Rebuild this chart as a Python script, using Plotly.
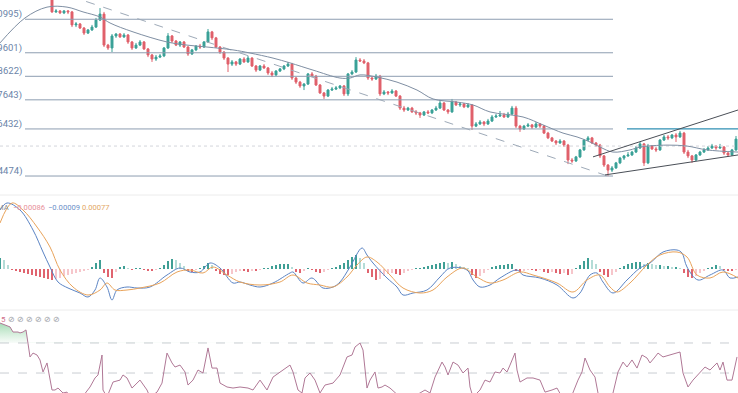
import plotly.graph_objects as go

# ---------------- DATA ----------------
first_open = 1.1230
closes = [1.1130, 1.1134, 1.1126, 1.1134, 1.1130, 1.1076, 1.1080, 1.1063, 1.1042, 1.1055,
          1.1067, 1.1096, 1.1121, 1.0992, 1.0980, 1.1030, 1.1038, 1.1026, 1.1034, 1.1005,
          1.0980, 1.0992, 1.1005, 1.0976, 1.0951, 1.0934, 1.0942, 1.0947, 1.0980, 1.1030,
          1.1009, 1.0992, 1.1005, 1.0984, 1.0955, 1.0972, 1.0988, 1.0984, 1.1005, 1.1047,
          1.1022, 1.0984, 1.0963, 1.0938, 1.0913, 1.0922, 1.0913, 1.0934, 1.0922, 1.0938,
          1.0905, 1.0888, 1.0905, 1.0897, 1.0876, 1.0868, 1.0884, 1.0893, 1.0905, 1.0913,
          1.0855, 1.0838, 1.0822, 1.0830, 1.0872, 1.0863, 1.0826, 1.0793, 1.0780, 1.0805,
          1.0809, 1.0814, 1.0822, 1.0789, 1.0872, 1.0880, 1.0930, 1.0926, 1.0918, 1.0855,
          1.0851, 1.0863, 1.0789, 1.0797, 1.0793, 1.0801, 1.0780, 1.0730, 1.0722, 1.0730,
          1.0714, 1.0710, 1.0701, 1.0714, 1.0710, 1.0722, 1.0730, 1.0751, 1.0722, 1.0714,
          1.0755, 1.0743, 1.0747, 1.0735, 1.0743, 1.0655, 1.0664, 1.0672, 1.0664, 1.0676,
          1.0693, 1.0697, 1.0701, 1.0693, 1.0705, 1.0730, 1.0655, 1.0643, 1.0655, 1.0660,
          1.0651, 1.0664, 1.0655, 1.0626, 1.0606, 1.0593, 1.0585, 1.0593, 1.0576, 1.0514,
          1.0510, 1.0527, 1.0556, 1.0597, 1.0606, 1.0585, 1.0576, 1.0531, 1.0493, 1.0472,
          1.0481, 1.0502, 1.0522, 1.0531, 1.0535, 1.0547, 1.0564, 1.0581, 1.0502, 1.0572,
          1.0560, 1.0556, 1.0597, 1.0610, 1.0606, 1.0618, 1.0610, 1.0626, 1.0547, 1.0531,
          1.0514, 1.0535, 1.0547, 1.0556, 1.0564, 1.0572, 1.0564, 1.0568, 1.0543, 1.0535,
          1.0556, 1.0601]
highs = [1.1246, 1.1142, 1.1138, 1.1138, 1.1138, 1.1134, 1.1088, 1.1084, 1.1067, 1.1059,
         1.1076, 1.1105, 1.1146, 1.1130, 1.0997, 1.1038, 1.1042, 1.1042, 1.1042, 1.1038,
         1.1009, 1.1001, 1.1013, 1.1009, 1.0980, 1.0955, 1.0951, 1.0955, 1.0984, 1.1042,
         1.1034, 1.1013, 1.1009, 1.1009, 1.0988, 1.0976, 1.0992, 1.0997, 1.1009, 1.1059,
         1.1051, 1.1026, 1.0988, 1.0967, 1.0942, 1.0930, 1.0926, 1.0938, 1.0942, 1.0947,
         1.0942, 1.0909, 1.0909, 1.0913, 1.0901, 1.0884, 1.0888, 1.0897, 1.0909, 1.0922,
         1.0918, 1.0859, 1.0843, 1.0834, 1.0876, 1.0880, 1.0868, 1.0830, 1.0797, 1.0809,
         1.0818, 1.0822, 1.0826, 1.0826, 1.0876, 1.0888, 1.0942, 1.0938, 1.0934, 1.0922,
         1.0863, 1.0872, 1.0868, 1.0805, 1.0801, 1.0809, 1.0805, 1.0784, 1.0739, 1.0735,
         1.0735, 1.0722, 1.0714, 1.0718, 1.0722, 1.0726, 1.0739, 1.0764, 1.0755, 1.0726,
         1.0768, 1.0759, 1.0755, 1.0751, 1.0751, 1.0747, 1.0672, 1.0680, 1.0676, 1.0685,
         1.0701, 1.0705, 1.0718, 1.0710, 1.0714, 1.0739, 1.0739, 1.0660, 1.0660, 1.0668,
         1.0664, 1.0672, 1.0668, 1.0660, 1.0631, 1.0610, 1.0597, 1.0601, 1.0597, 1.0581,
         1.0522, 1.0531, 1.0560, 1.0601, 1.0614, 1.0610, 1.0589, 1.0581, 1.0535, 1.0497,
         1.0489, 1.0506, 1.0527, 1.0535, 1.0547, 1.0552, 1.0572, 1.0589, 1.0585, 1.0581,
         1.0576, 1.0568, 1.0601, 1.0618, 1.0618, 1.0622, 1.0626, 1.0635, 1.0631, 1.0556,
         1.0535, 1.0539, 1.0552, 1.0564, 1.0572, 1.0581, 1.0576, 1.0581, 1.0572, 1.0547,
         1.0560, 1.0614]
lows = [1.1126, 1.1126, 1.1121, 1.1121, 1.1121, 1.1067, 1.1067, 1.1059, 1.1034, 1.1038,
        1.1051, 1.1063, 1.1092, 1.0984, 1.0972, 1.0963, 1.1022, 1.1022, 1.1022, 1.0997,
        1.0972, 1.0976, 1.0988, 1.0972, 1.0942, 1.0922, 1.0926, 1.0938, 1.0942, 1.0976,
        1.1001, 1.0988, 1.0984, 1.0980, 1.0947, 1.0951, 1.0967, 1.0976, 1.0980, 1.1001,
        1.1013, 1.0980, 1.0955, 1.0930, 1.0880, 1.0905, 1.0905, 1.0909, 1.0918, 1.0918,
        1.0901, 1.0880, 1.0884, 1.0893, 1.0868, 1.0859, 1.0863, 1.0880, 1.0888, 1.0901,
        1.0847, 1.0830, 1.0814, 1.0805, 1.0826, 1.0859, 1.0822, 1.0789, 1.0768, 1.0776,
        1.0801, 1.0805, 1.0809, 1.0780, 1.0780, 1.0868, 1.0876, 1.0922, 1.0913, 1.0847,
        1.0843, 1.0847, 1.0780, 1.0784, 1.0784, 1.0789, 1.0776, 1.0722, 1.0714, 1.0718,
        1.0710, 1.0701, 1.0689, 1.0697, 1.0705, 1.0705, 1.0718, 1.0726, 1.0718, 1.0705,
        1.0710, 1.0739, 1.0735, 1.0730, 1.0730, 1.0639, 1.0651, 1.0660, 1.0655, 1.0660,
        1.0672, 1.0689, 1.0693, 1.0689, 1.0689, 1.0701, 1.0647, 1.0631, 1.0639, 1.0651,
        1.0643, 1.0647, 1.0647, 1.0622, 1.0601, 1.0589, 1.0576, 1.0581, 1.0568, 1.0497,
        1.0502, 1.0506, 1.0522, 1.0552, 1.0593, 1.0581, 1.0568, 1.0522, 1.0485, 1.0447,
        1.0464, 1.0477, 1.0497, 1.0514, 1.0527, 1.0531, 1.0543, 1.0560, 1.0489, 1.0497,
        1.0556, 1.0547, 1.0552, 1.0593, 1.0597, 1.0601, 1.0589, 1.0606, 1.0539, 1.0522,
        1.0502, 1.0510, 1.0531, 1.0543, 1.0552, 1.0560, 1.0556, 1.0560, 1.0535, 1.0527,
        1.0531, 1.0552]

ma_t = [-13, -6.75, -1.25, 3.75, 7.75, 12, 14.5, 20.25, 28.75, 33.75, 38.75, 45.25, 49.5,
        55.25, 59.5, 65.25, 72, 74.5, 77, 81.25, 86.25, 91.25, 95.25, 101.25, 105.25, 109.5,
        117.75, 122.75, 127.75, 131.25, 134.5, 137, 140.25, 144.5, 147, 153.75, 158.75,
        163.75, 171.5]
ma_v = [1.1001, 1.1105, 1.1150, 1.1150, 1.1130, 1.1109, 1.1084, 1.1047, 1.1005, 1.0992,
        1.0984, 1.0972, 1.0959, 1.0938, 1.0918, 1.0888, 1.0855, 1.0855, 1.0868, 1.0859,
        1.0838, 1.0805, 1.0768, 1.0755, 1.0743, 1.0714, 1.0693, 1.0660, 1.0626, 1.0610,
        1.0589, 1.0568, 1.0547, 1.0556, 1.0568, 1.0576, 1.0572, 1.0556, 1.0547]

fib_ratios = ["0.786", "0.618", "0.5", "0.382", "0.236", "0"]
fib_levels = [1.10995, 1.09601, 1.08622, 1.07643, 1.06432, 1.04474]
fib_span = [-6.75, 140.25]
last_price = 1.0572
trend_t = [0, 139]
trend_p = [1.1221, 1.0447]
wedge_up_t = [135.25, 171.5]
wedge_up_p = [1.0527, 1.0722]
wedge_lo_t = [138.25, 171.5]
wedge_lo_p = [1.0452, 1.0535]
teal_t = [143.75, 171.5]
teal_p = [1.06432, 1.06432]

macd_t = [-13, -11.25, -8, -4.75, -2.25, -0.5, 1.5, 4, 7, 9, 10.75, 12, 13.75, 15, 16.25,
          18.75, 21.25, 24.5, 28.75, 32, 34.5, 37, 39.5, 42, 45.25, 47, 49.5, 52, 55.25,
          59.5, 60.25, 62.75, 65, 67.75, 70.25, 72, 74.5, 77.5, 78.75, 80.25, 83.75, 86.25,
          87.75, 90.25, 93.75, 97, 99.5, 103.75, 105.25, 107, 109.5, 112, 116.25, 117.75,
          122, 126.25, 130.25, 132, 134.5, 136.25, 137.75, 140.25, 143.75, 147, 149.5,
          152.75, 156.25, 157.5, 158.75, 161.5, 164.5, 167.75, 169.5, 171.5]
macd_v = [0.0059, 0.0066, 0.0059, 0.0039, 0.0017, 0.0002, -0.0013, -0.0019, -0.0024, -0.0028,
          -0.0021, -0.0009, -0.0018, -0.0031, -0.0021, -0.0018, -0.0019, -0.0018, -0.0006,
          0.0001, -0.0003, -0.0003, 0.0006, 0.0001, -0.0014, -0.0013, -0.0016, -0.0018,
          -0.0014, -0.0004, -0.0003, -0.0014, -0.0009, -0.0019, -0.0018, -0.0013, 0.0002,
          0.0021, 0.0014, 0.0006, -0.0009, -0.0018, -0.0026, -0.0024, -0.0021, -0.0008,
          0.0001, -0.0001, -0.0011, -0.0018, -0.0016, -0.0009, -0.0001, -0.0006, -0.0009,
          -0.0016, -0.0029, -0.0024, -0.0006, -0.0004, -0.0013, -0.0024, -0.0011, 0.0001,
          0.0006, 0.0017, 0.0019, 0.0016, 0.0002, -0.0011, -0.0006, -0.0001, -0.0009, -0.0008]
signal_t = [-13, -10, -7.25, -3.75, -0.5, 2, 5.25, 9, 12, 13.75, 15.75, 18.75, 22, 27, 31.25,
            34.5, 37.75, 40.25, 43.75, 47, 52, 57, 60.25, 63.75, 67, 70.25, 73.75, 76.25,
            78.75, 81.25, 84.5, 87.75, 92, 95.25, 98.75, 102.75, 106.25, 109.5, 112.75, 117,
            120.25, 126.25, 130.25, 133.75, 137, 139.5, 141.25, 144.5, 148.75, 152, 156.25,
            158.75, 161.25, 164.5, 167.75, 171.5]
signal_v = [0.0046, 0.0066, 0.0059, 0.0042, 0.0022, -0.0001, -0.0018, -0.0026, -0.0021,
            -0.0014, -0.0021, -0.0021, -0.0019, -0.0014, -0.0003, -0.0001, -0.0004, 0.0002,
            -0.0006, -0.0013, -0.0016, -0.0013, -0.0006, -0.0014, -0.0016, -0.0018, -0.0008,
            0.0004, 0.0012, 0.0007, -0.0006, -0.0019, -0.0024, -0.0021, -0.0008, 0.0001,
            -0.0008, -0.0014, -0.0011, -0.0003, -0.0006, -0.0014, -0.0023, -0.0011, -0.0006,
            -0.0018, -0.0023, -0.0014, 0.0004, 0.0014, 0.0017, 0.0012, -0.0006, -0.0009,
            -0.0003, -0.0009]
hist_start = -13
hist_v = [0.0011, 0.0009, 0.0004, -0.0001, -0.0002, -0.0003, -0.0004, -0.0005, -0.0006, -0.0007,
          -0.0008, -0.0009, -0.0010,
          -0.0011, -0.0010, -0.0009, -0.0007, -0.0006, -0.0005, -0.0004, -0.0003, -0.0002, -0.0001,
          0.0002, 0.0006, 0.0009, -0.0004, -0.0008, -0.0009, -0.0003, 0.0002, 0.0003, 0.0001,
          -0.0001, 0.00005, 0.0001, -0.0001, -0.0002, -0.0002, -0.0001, 0.0001, 0.0004, 0.0008,
          0.0010, 0.0009, 0.0006, 0.0003, -0.0002, -0.0003, -0.0001, 0.0001, 0.0003, 0.0006,
          0.0004, -0.0002, -0.0005, -0.0006, -0.0006, -0.0005, -0.0003, -0.0002, -0.0002, -0.0003,
          -0.0002, -0.0002, -0.0001, 0.00005, 0.0001, 0.0003, 0.0004, 0.0005, 0.0005, 0.0005,
          0.0002, -0.0003, -0.0004, -0.0002, 0.0001, -0.0001, -0.0003, -0.0004, -0.0003, -0.0001,
          0.0001, 0.0002, 0.0004, 0.0006, 0.0009, 0.0012, 0.0014, 0.0011, 0.0006, -0.0004,
          -0.0008, -0.0011, -0.0010, -0.0007, -0.0005, -0.0004, -0.0005, -0.0006, -0.0004, -0.0002,
          -0.0001, 0.00005, 0.0001, 0.0002, 0.0003, 0.0004, 0.0005, 0.0006, 0.0007, 0.0006,
          0.0007, 0.0005, 0.0003, 0.0002, 0.0001, -0.0006, -0.0009, -0.0007, -0.0004, -0.0001,
          0.0002, 0.0003, 0.0004, 0.0004, 0.0005, 0.0005, -0.0002, -0.0003, -0.0002, -0.0001,
          -0.0001, -0.0002, -0.0001, -0.0003, -0.0004, -0.0003, -0.0004, -0.0005, -0.0004, -0.0006,
          -0.0005, 0.0001, 0.0004, 0.0008, 0.0011, 0.0009, 0.0005, -0.0003, -0.0006, -0.0008,
          -0.0006, -0.0003, 0.0001, 0.0003, 0.0005, 0.0006, 0.0007, 0.0007, 0.0005, 0.0006,
          0.0005, 0.0004, 0.0004, 0.0003, 0.0003, 0.0002, 0.0002, 0.0001, -0.0004, -0.0008,
          -0.0009, -0.0007, -0.0004, -0.0002, 0.0001, 0.0002, 0.0004, 0.0003, -0.0001, -0.0002,
          -0.0002, -0.0001]
macd_legend = ["\u22120.00086", "\u22120.00009", "0.00077"]

rsi_t = [-13, -10.5, -9.75, -8.5, -8, -7.25, -6.5, -6, -5.5, -4.75, -3.75, -3, -2.25, -1.25,
         -0.5, 0, 0.75, 1.5, 2.75, 3.75, 4.5, 7, 9.5, 10.75, 11.5, 12.5, 12.75, 13.75, 15.25,
         17, 17.75, 18.75, 20, 21.25, 22, 23.75, 24.5, 26.25, 27.5, 28.75, 30, 30.75, 32,
         33.25, 34, 35.25, 36.5, 37.75, 39, 40, 41.25, 42, 43.75, 45.25, 47, 49, 50.25, 52,
         53.75, 55.25, 57.75, 59.5, 60.25, 61.5, 62.5, 63.25, 64.5, 65.75, 67, 68.25, 70.25,
         72, 73.75, 75, 75.75, 77, 77.75, 78.75, 79.5, 80.75, 81.5, 82.5, 83.25, 84.5, 87,
         89.5, 92, 93.25, 94.5, 95.75, 97.5, 98.25, 99, 100.25, 101.5, 102.75, 104, 104.5,
         105.25, 107, 108.25, 109.5, 110.75, 112, 112.75, 113.75, 114.5, 115.75, 116.25, 117,
         118.75, 120.25, 122, 123.25, 125, 126.25, 127.5, 129.5, 131.5, 132.5, 133.25, 134.5,
         135.75, 136.5, 138.25, 140.25, 141.5, 142.75, 143.75, 145, 146.25, 147.5, 148.75,
         149.5, 150.75, 151.5, 152.75, 154.5, 156.25, 157, 157.75, 159, 160.25, 162, 163.25,
         164.5, 165.25, 166.25, 167, 167.75, 168.75, 170, 171.25]
rsi_v = [83.3, 80.7, 77.3, 77.3, 76.7, 77.3, 78.7, 70.7, 60.7, 63.3, 62, 58.7, 50.7, 56.7,
         47.3, 38.7, 38.7, 40, 36.7, 37.3, 34, 32, 40.7, 46.7, 48.7, 62, 38.7, 34, 44,
         45.3, 48.7, 46.7, 40, 43.3, 45.3, 38.7, 34, 37.3, 43.3, 63.3, 56.7, 54, 55.3,
         50.7, 42, 45.3, 52, 50, 66.7, 53.3, 53.3, 43.3, 40.7, 40, 40.7, 40, 38.7, 45.3,
         38.7, 47.3, 52, 55.3, 50.7, 38.7, 36.7, 46.7, 50, 45.3, 36.7, 42, 43.3,
         48.7, 60.7, 62, 67.3, 70, 65.3, 40, 45.3, 50.7, 40, 40.7, 42, 40, 34,
         33.3, 36.7, 38.7, 36.7, 47.3, 57.3, 54, 48.7, 57.3, 55.3, 50, 53.3, 40.7,
         34, 38.7, 45.3, 44, 50.7, 50, 53.3, 50.7, 55.3, 63.3, 52, 44,
         46.7, 46.7, 45.3, 37.3, 38.7, 40, 34, 32, 45.3, 50.7, 60, 52,
         47.3, 36.7, 32, 36.7, 50.7, 57.3, 54, 58.7, 53.3, 62, 60,
         56.7, 60.7, 63.3, 60.7, 62, 63.3, 64, 50, 40.7, 45.3, 50, 54,
         52, 54, 56.7, 52, 57.3, 45.3, 45.3, 60.7]
rsi_bands = [70, 50]
rsi_legend = "5"

# ---------------- STYLE ----------------
UP = "#3aa197"
DOWN = "#e0606b"
FIB = "#8d9db1"
FONT = "Roboto"

opens = [first_open] + closes[:-1]
bars = list(range(len(closes)))
x_range = [-13, 171.5]

fig = go.Figure()

# price pane
for lvl in fib_levels:
    fig.add_trace(go.Scatter(x=fib_span, y=[lvl, lvl], mode="lines",
                             line=dict(color=FIB, width=1), xaxis="x", yaxis="y",
                             hoverinfo="skip"))
fig.add_trace(go.Scatter(x=x_range, y=[last_price, last_price], mode="lines",
                         line=dict(color="#d3d6db", width=1, dash="dot"), xaxis="x", yaxis="y"))
fig.add_trace(go.Scatter(x=teal_t, y=teal_p, mode="lines",
                         line=dict(color="#2f8fb3", width=1.2), xaxis="x", yaxis="y"))
fig.add_trace(go.Scatter(x=trend_t, y=trend_p, mode="lines",
                         line=dict(color="#9eaab8", width=1, dash="dash"), xaxis="x", yaxis="y"))
fig.add_trace(go.Scatter(x=ma_t, y=ma_v, mode="lines", line_shape="spline",
                         line=dict(color="#7f8fa3", width=1), xaxis="x", yaxis="y"))
fig.add_trace(go.Candlestick(x=bars, open=opens, high=highs, low=lows, close=closes,
                             increasing=dict(line=dict(color=UP, width=1), fillcolor=UP),
                             decreasing=dict(line=dict(color=DOWN, width=1), fillcolor=DOWN),
                             whiskerwidth=0, xaxis="x", yaxis="y"))
fig.add_trace(go.Scatter(x=wedge_up_t, y=wedge_up_p, mode="lines",
                         line=dict(color="#4a4f57", width=1), xaxis="x", yaxis="y"))
fig.add_trace(go.Scatter(x=wedge_lo_t, y=wedge_lo_p, mode="lines",
                         line=dict(color="#4a4f57", width=1), xaxis="x", yaxis="y"))

# MACD pane
hist_t = list(range(hist_start, hist_start + len(hist_v)))
hist_colors = []
prev = None
for v in hist_v:
    if v >= 0:
        c = "#3f9f95" if (prev is None or v >= prev) else "#b4dcd7"
    else:
        c = "#e0646f" if (prev is None or v <= prev) else "#f6c6cb"
    hist_colors.append(c)
    prev = v
fig.add_trace(go.Bar(x=hist_t, y=hist_v, marker=dict(color=hist_colors, line=dict(width=0)),
                     width=0.5, xaxis="x2", yaxis="y2"))
fig.add_trace(go.Scatter(x=macd_t, y=macd_v, mode="lines", line_shape="spline",
                         line=dict(color="#5b84c4", width=1), xaxis="x2", yaxis="y2"))
fig.add_trace(go.Scatter(x=signal_t, y=signal_v, mode="lines", line_shape="spline",
                         line=dict(color="#e9a35a", width=1), xaxis="x2", yaxis="y2"))

# RSI pane
for b in rsi_bands:
    fig.add_trace(go.Scatter(x=x_range, y=[b, b], mode="lines",
                             line=dict(color="#c9cdd2", width=1, dash="dash"),
                             xaxis="x3", yaxis="y3"))
ob_t = [t for t, v in zip(rsi_t, rsi_v) if v >= rsi_bands[0]]
ob_v = [v for v in rsi_v if v >= rsi_bands[0]]
fig.add_trace(go.Scatter(x=ob_t, y=[rsi_bands[0]] * len(ob_t), mode="lines",
                         line=dict(width=0), xaxis="x3", yaxis="y3"))
fig.add_trace(go.Scatter(x=ob_t, y=ob_v, mode="lines", line=dict(width=0), fill="tonexty",
                         fillgradient=dict(type="vertical",
                                           colorscale=[[0, "rgba(120,200,140,0.05)"],
                                                       [1, "rgba(90,190,120,0.55)"]]),
                         xaxis="x3", yaxis="y3"))
fig.add_trace(go.Scatter(x=rsi_t, y=rsi_v, mode="lines",
                         line=dict(color="#b07896", width=1), xaxis="x3", yaxis="y3"))

W, H = 738, 393
ax = dict(range=x_range, visible=False, showgrid=False, zeroline=False, fixedrange=True)
fig.update_layout(
    width=W, height=H, margin=dict(l=0, r=0, t=0, b=0),
    paper_bgcolor="white", plot_bgcolor="white", showlegend=False,
    font=dict(family=FONT),
    xaxis=dict(**ax, anchor="y", rangeslider=dict(visible=False)),
    xaxis2=dict(**ax, anchor="y2", matches="x"),
    xaxis3=dict(**ax, anchor="y3", matches="x"),
    yaxis=dict(domain=[1 - 194 / H, 1], range=[1.03726, 1.11796], visible=False),
    yaxis2=dict(domain=[1 - 309 / H, 1 - 196 / H], range=[-0.0040, 0.0073], visible=False),
    yaxis3=dict(domain=[0, 1 - 311 / H], range=[36.7, 91.3], visible=False),
    bargap=0,
)

# pane separators
for py in (195, 310):
    fig.add_shape(type="line", xref="paper", yref="paper", x0=0, x1=1,
                  y0=1 - py / H, y1=1 - py / H, line=dict(color="#ececec", width=1))

# fib labels
for r, lvl in zip(fib_ratios, fib_levels):
    fig.add_annotation(x=-7.0, y=lvl, xref="x", yref="y", text=f"{r}({lvl:.5f})",
                       showarrow=False, xanchor="right", yanchor="middle", yshift=5,
                       font=dict(size=9.5, color="#6b84a8"))

# MACD legend
fig.add_annotation(x=-5 / W, y=1 - 207 / H, xref="paper", yref="paper", text="MA",
                   showarrow=False, xanchor="left", yanchor="middle",
                   font=dict(size=7.6, color="#8a8f98"))
for txt, px, col in zip(macd_legend, [11, 46, 80], ["#e8909a", "#6b8fc8", "#e3a866"]):
    fig.add_annotation(x=px / W, y=1 - 207 / H, xref="paper", yref="paper", text=txt,
                       showarrow=False, xanchor="left", yanchor="middle",
                       font=dict(size=7.6, color=col))

# RSI legend
fig.add_annotation(x=-1 / W, y=1 - 319 / H, xref="paper", yref="paper", text=rsi_legend,
                   showarrow=False, xanchor="left", yanchor="middle",
                   font=dict(size=8, color="#d0708a"))
fig.add_annotation(x=6 / W, y=1 - 319 / H, xref="paper", yref="paper",
                   text=" ".join(["\u2298"] * 6), showarrow=False, xanchor="left",
                   yanchor="middle", font=dict(size=8, color="#9a9ea5"))

fig.write_html("out.html", config={"displayModeBar": False},
               post_script="document.body.style.margin='0';"
                           "document.body.style.overflow='hidden';")
